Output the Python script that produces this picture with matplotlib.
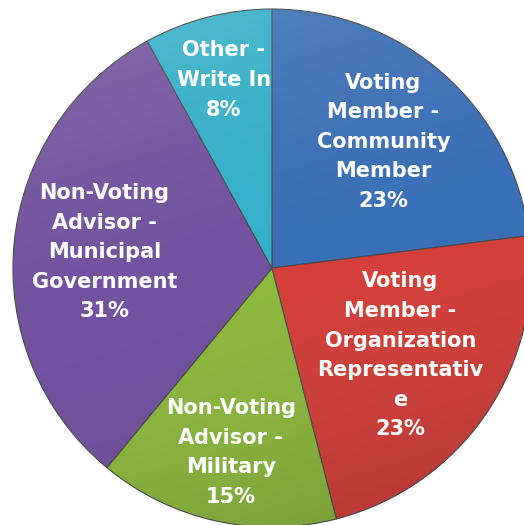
import numpy as np
import matplotlib
matplotlib.use("Agg")
import matplotlib.pyplot as plt
from matplotlib.patches import Circle

# Daten
labels = ["Voting\nMember -\nCommunity\nMember",
          "Voting\nMember -\nOrganization\nRepresentativ\ne",
          "Non-Voting\nAdvisor -\nMilitary",
          "Non-Voting\nAdvisor -\nMunicipal\nGovernment",
          "Other -\nWrite In"]
werte = [23, 23, 15, 31, 8]
farben = ["#3A70B8", "#D63F39", "#8DB93E", "#7352A0", "#33B2CB"]
abstand = [0.65, 0.60, 0.73, 0.65, 0.75]

fig = plt.figure(figsize=(5.24, 5.25), dpi=100)
ax = fig.add_axes([0, 0, 1, 1])

wedges, _ = ax.pie(werte, colors=farben, startangle=90, counterclock=False,
                   radius=1.0,
                   wedgeprops=dict(edgecolor="#4a4a4a", linewidth=0.8))

# leichter Glanz-Verlauf ueber dem ganzen Kreis
yy, xx = np.mgrid[1:-1:300j, -1:1:300j]
glanz = np.clip(0.5 + 0.35 * (yy - xx * 0.3), 0, 1)
img = np.zeros((300, 300, 4))
img[..., :3] = glanz[..., None]
img[..., 3] = 0.2 * np.abs(glanz - 0.5) * 2
bild = ax.imshow(img, extent=(-1, 1, -1, 1), zorder=3, interpolation="bilinear")
bild.set_clip_path(Circle((0, 0), 1.0, transform=ax.transData))

# Beschriftungen
for w, lab, wert, d in zip(wedges, labels, werte, abstand):
    mitte = np.deg2rad((w.theta1 + w.theta2) / 2)
    ax.text(d * np.cos(mitte), d * np.sin(mitte), f"{lab}\n{wert}%",
            ha="center", va="center", color="white", fontsize=15,
            fontweight="bold", family="DejaVu Sans", linespacing=1.6,
            zorder=5)

ax.set_xlim(-1.050, 0.973)
ax.set_ylim(-0.992, 1.035)
ax.set_aspect("auto")
ax.axis("off")

plt.savefig("out.png", dpi=100)
